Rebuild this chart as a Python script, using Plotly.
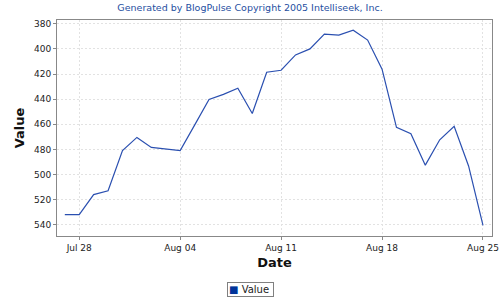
import plotly.graph_objects as go

dates = ["2005-07-27", "2005-07-28", "2005-07-29", "2005-07-30", "2005-07-31",
         "2005-08-01", "2005-08-02", "2005-08-03", "2005-08-04", "2005-08-05",
         "2005-08-06", "2005-08-07", "2005-08-08", "2005-08-09", "2005-08-10",
         "2005-08-11", "2005-08-12", "2005-08-13", "2005-08-14", "2005-08-15",
         "2005-08-16", "2005-08-17", "2005-08-18", "2005-08-19", "2005-08-20",
         "2005-08-21", "2005-08-22", "2005-08-23", "2005-08-24", "2005-08-25"]
values = [532, 532, 516, 513, 481, 470.5, 478.5, 480, 481, 460.7,
          440.2, 436.2, 431.4, 451.4, 418.6, 417, 404.8, 400, 388.3, 389,
          385.1, 393, 416.2, 462.5, 467.6, 492.6, 472.4, 461.7, 493.2, 540.5]
series_name = "Value"
title_text = "Generated by BlogPulse Copyright 2005 Intelliseek, Inc."

FONT = "DejaVu Sans"

fig = go.Figure()
fig.add_trace(go.Scatter(x=dates, y=values, mode="lines", name=series_name,
                         line=dict(color="#2a4fb0", width=1.2), showlegend=False))

fig.update_layout(
    width=500, height=300,
    margin=dict(l=57, r=8, t=20, b=64, autoexpand=False),
    paper_bgcolor="white", plot_bgcolor="white",
    font=dict(family=FONT, size=9, color="#222222"),
    title=dict(text=title_text, x=0.5, xanchor="center", y=1 - 8/300, yanchor="middle",
               font=dict(family=FONT, size=9.5, color="#1f4f9f")),
    showlegend=False,
)
fig.add_annotation(
    text='<span style="color:#003399">■</span> ' + series_name + ' ',
    xref="paper", yref="paper", x=(250 - 57) / 435, y=(236 - 289) / 216,
    xanchor="center", yanchor="middle", showarrow=False,
    font=dict(family=FONT, size=10, color="#222222"),
    bordercolor="#808080", borderwidth=1, borderpad=1, bgcolor="white",
)
fig.update_xaxes(
    type="date",
    range=["2005-07-26 11:00", "2005-08-25 15:00"],
    tick0="2005-07-28", dtick=7 * 24 * 3600 * 1000, tickformat="%b %d",
    showgrid=True, gridcolor="#e2e2e2", griddash="2px,2px", gridwidth=1,
    showline=True, linecolor="#888888", linewidth=1, mirror=True,
    ticks="outside", ticklen=3, tickcolor="#888888",
    tickfont=dict(family=FONT, size=9, color="#222222"),
    title=dict(text="<b>Date</b>", font=dict(family=FONT, size=13, color="#111111"), standoff=6),
    zeroline=False,
)
fig.update_yaxes(
    range=[549, 377],
    tick0=380, dtick=20,
    showgrid=True, gridcolor="#e2e2e2", griddash="2px,2px", gridwidth=1,
    showline=True, linecolor="#888888", linewidth=1, mirror=True,
    ticks="outside", ticklen=3, tickcolor="#888888",
    tickfont=dict(family=FONT, size=9, color="#222222"),
    title=dict(text="<b>Value</b>", font=dict(family=FONT, size=13, color="#111111"), standoff=6),
    zeroline=False,
)

fig.write_html("out.html")
